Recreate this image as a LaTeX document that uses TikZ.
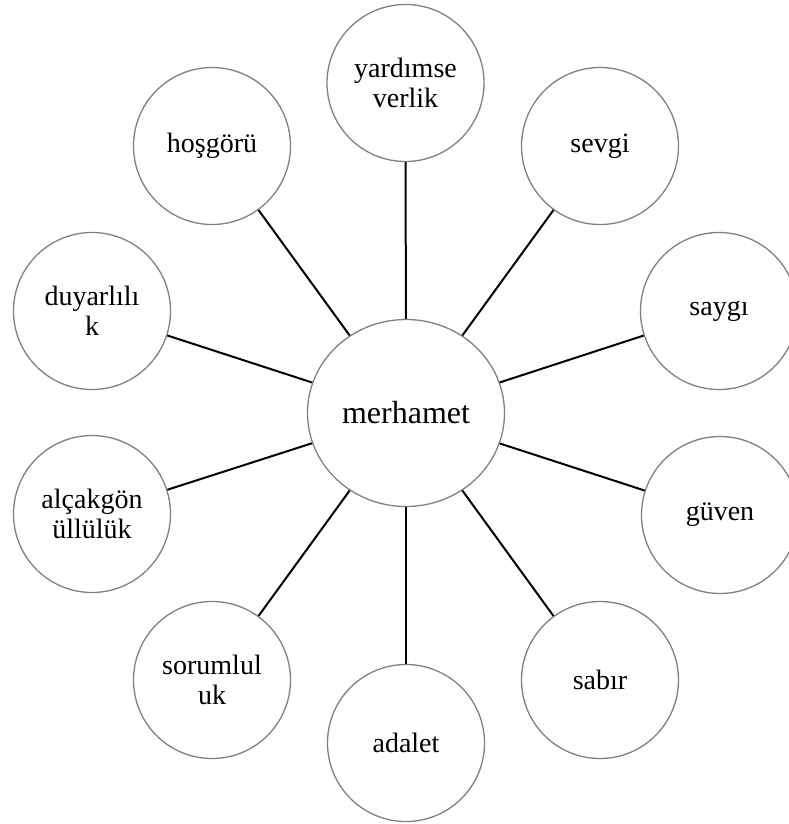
\documentclass[tikz,border=0pt]{standalone}
\usepackage{fontspec}
\setmainfont{Liberation Serif}
\usetikzlibrary{shapes.geometric}
\begin{document}
\begin{tikzpicture}[x=1pt,y=-1pt,
  leaf/.style={circle,draw=black!50,line width=1.3pt,fill=white,minimum size=157pt,inner sep=0pt,align=center,font=\fontsize{28}{30}\selectfont},
  hub/.style={ellipse,draw=black!50,line width=1.3pt,fill=white,minimum width=197pt,minimum height=187pt,inner sep=0pt,font=\fontsize{32}{35}\selectfont},
  link/.style={line width=2pt,black}]
\useasboundingbox (0,0) rectangle (789,824);
\node[hub] (c) at (406,413) {merhamet};
\node[leaf] (n1) at (405.5,83) {yardımse\\verlik};
\node[leaf] (n2) at (600,146) {sevgi};
\node[leaf] (n3) at (719,311) {saygı};
\node[leaf] (n4) at (720,515) {güven};
\node[leaf] (n5) at (600,680) {sabır};
\node[leaf] (n6) at (406,743) {adalet};
\node[leaf] (n7) at (212,680) {sorumlul\\uk};
\node[leaf] (n8) at (92,514) {alçakgön\\üllülük};
\node[leaf] (n9) at (92,311) {duyarlılı\\k};
\node[leaf] (n10) at (212,146) {hoşgörü};
\foreach \i in {1,...,10} {\draw[link] (c) -- (n\i);}
\end{tikzpicture}
\end{document}
